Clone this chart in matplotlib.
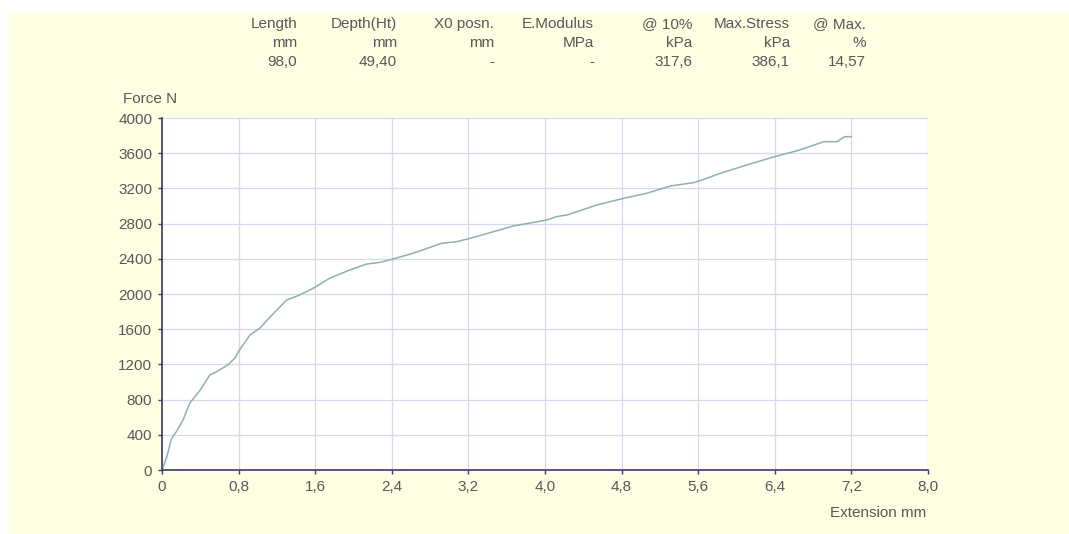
import matplotlib.pyplot as plt
from matplotlib.patches import Rectangle

plt.rcParams["font.family"] = ["Liberation Sans", "DejaVu Sans"]

# Header table: (title, unit, value)
header_titles = ["Length", "Depth(Ht)", "X0 posn.", "E.Modulus", "@ 10%", "Max.Stress", "@ Max."]
header_units = ["mm", "mm", "mm", "MPa", "kPa", "kPa", "%"]
header_values = ["98,0", "49,40", "-", "-", "317,6", "386,1", "14,57"]

# Force / extension curve
extension_mm = [0.0, 0.05, 0.10, 0.15, 0.22, 0.29, 0.40, 0.50, 0.57, 0.69, 0.76, 0.81,
                0.92, 1.02, 1.13, 1.30, 1.44, 1.58, 1.75, 1.96, 2.14, 2.28, 2.40, 2.62,
                2.92, 3.08, 3.22, 3.67, 4.02, 4.12, 4.23, 4.54, 4.82, 5.06, 5.31, 5.55,
                5.62, 5.83, 6.14, 6.40, 6.66, 6.91, 7.05, 7.13, 7.20]
force_n = [0, 150, 360, 435, 570, 760, 910, 1080, 1117, 1195, 1270, 1365,
           1535, 1610, 1740, 1930, 1990, 2065, 2178, 2273, 2341, 2360, 2394, 2462,
           2576, 2595, 2633, 2773, 2841, 2879, 2898, 3011, 3087, 3144, 3227, 3265,
           3288, 3371, 3477, 3561, 3636, 3731, 3731, 3788, 3788]

x_ticks = [0, 0.8, 1.6, 2.4, 3.2, 4.0, 4.8, 5.6, 6.4, 7.2, 8.0]
x_labels = ["0", "0,8", "1,6", "2,4", "3,2", "4,0", "4,8", "5,6", "6,4", "7,2", "8,0"]
y_ticks = list(range(0, 4001, 400))

W, H = 1069, 534
fig = plt.figure(figsize=(W / 100, H / 100), dpi=100)
fig.patch.set_facecolor("white")
fig.patches.append(Rectangle((8 / W, 0), 1 - 8 / W, 1 - 12 / H, transform=fig.transFigure,
                             facecolor="#fefee2", edgecolor="none", zorder=-10))

text_col = "#585858"
axis_col = "#3a3a70"
fs = 11

ax = fig.add_axes([162 / W, 1 - 470 / H, (928 - 162) / W, (470 - 118) / H])
ax.set_facecolor("white")
ax.plot(extension_mm, force_n, color="#90b0ac", lw=1.1)
ax.set_xlim(0, 8)
ax.set_ylim(0, 4000)
ax.set_xticks(x_ticks)
ax.set_xticklabels(x_labels)
ax.set_yticks(y_ticks)
ax.grid(True, color="#d4d8e8", lw=0.9)
ax.set_axisbelow(True)
for s in ["top", "right"]:
    ax.spines[s].set_visible(False)
for s in ["left", "bottom"]:
    ax.spines[s].set_color(axis_col)
    ax.spines[s].set_linewidth(1.2)
ax.tick_params(colors=axis_col, labelcolor=text_col, labelsize=fs, length=3, width=1)
ax.tick_params(axis="x", pad=4)
ax.tick_params(axis="y", pad=4)

fig.text(123 / W, 1 - 99 / H, "Force N", fontsize=fs, color=text_col, va="center", ha="left")
fig.text(926 / W, 1 - 513 / H, "Extension mm", fontsize=fs, color=text_col, va="center", ha="right")

col_right = [297, 397, 494, 594, 692, 790, 866]
for xr, t, u, v in zip(col_right, header_titles, header_units, header_values):
    for yy, s in zip([24, 43, 62], [t, u, v]):
        fig.text(xr / W, 1 - yy / H, s, fontsize=fs, color=text_col, ha="right", va="center")

fig.savefig("out.png", dpi=100, facecolor=fig.get_facecolor())
